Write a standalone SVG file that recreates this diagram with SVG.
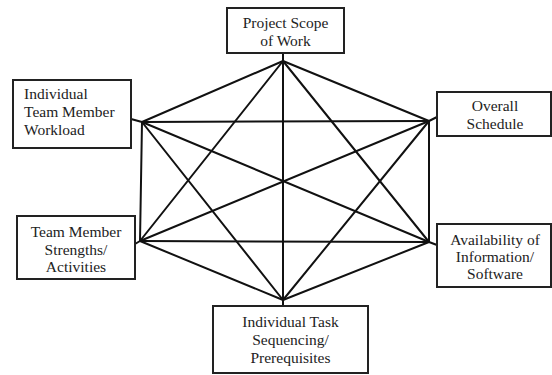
<svg xmlns="http://www.w3.org/2000/svg" width="552" height="375" viewBox="0 0 552 375">
<style>
rect.box{fill:#fff;stroke:#222;stroke-width:2}
.edge{stroke:#111;stroke-width:2;fill:none;stroke-linecap:round}
text{font-family:"Liberation Serif","Times New Roman",serif;font-size:15.5px;fill:#222}
.c{text-anchor:middle}
</style>
<rect width="552" height="375" fill="#fff"/>
<g id="connectors">
<line class="edge" x1="283" y1="61" x2="142" y2="122"/>
<line class="edge" x1="283" y1="61" x2="429" y2="121"/>
<line class="edge" x1="283" y1="61" x2="140" y2="241"/>
<line class="edge" x1="283" y1="61" x2="429" y2="242"/>
<line class="edge" x1="283" y1="61" x2="283" y2="300"/>
<line class="edge" x1="142" y1="122" x2="429" y2="121"/>
<line class="edge" x1="142" y1="122" x2="140" y2="241"/>
<line class="edge" x1="142" y1="122" x2="429" y2="242"/>
<line class="edge" x1="142" y1="122" x2="283" y2="300"/>
<line class="edge" x1="429" y1="121" x2="140" y2="241"/>
<line class="edge" x1="429" y1="121" x2="429" y2="242"/>
<line class="edge" x1="429" y1="121" x2="283" y2="300"/>
<line class="edge" x1="140" y1="241" x2="429" y2="242"/>
<line class="edge" x1="140" y1="241" x2="283" y2="300"/>
<line class="edge" x1="429" y1="242" x2="283" y2="300"/>
<line class="edge" x1="283" y1="53" x2="283" y2="61"/>
<line class="edge" x1="131" y1="119" x2="142" y2="122"/>
<line class="edge" x1="437" y1="117" x2="429" y2="121"/>
<line class="edge" x1="135" y1="244" x2="140" y2="241"/>
<line class="edge" x1="437" y1="245" x2="429" y2="242"/>
<line class="edge" x1="283" y1="306" x2="283" y2="300"/>
</g>
<g id="project-scope">
<rect class="box" x="227" y="8" width="117" height="45"/>
<text class="c" x="285.5" y="28">Project Scope</text>
<text class="c" x="285.5" y="46">of Work</text>
</g>
<g id="workload">
<rect class="box" x="13" y="80" width="118" height="68"/>
<text x="24" y="99">Individual</text>
<text x="24" y="117">Team Member</text>
<text x="24" y="135">Workload</text>
</g>
<g id="schedule">
<rect class="box" x="437" y="92" width="114" height="44"/>
<text class="c" x="495" y="111">Overall</text>
<text class="c" x="495" y="129">Schedule</text>
</g>
<g id="strengths">
<rect class="box" x="17" y="216" width="118" height="63"/>
<text class="c" x="76" y="237">Team Member</text>
<text class="c" x="76" y="255">Strengths/</text>
<text class="c" x="76" y="272">Activities</text>
</g>
<g id="availability">
<rect class="box" x="437" y="224" width="114" height="63"/>
<text class="c" x="495" y="245">Availability of</text>
<text class="c" x="495" y="262">Information/</text>
<text class="c" x="495" y="279">Software</text>
</g>
<g id="sequencing">
<rect class="box" x="213" y="306" width="155" height="67"/>
<text class="c" x="290.5" y="327">Individual Task</text>
<text class="c" x="290.5" y="345">Sequencing/</text>
<text class="c" x="290.5" y="363">Prerequisites</text>
</g>
</svg>
